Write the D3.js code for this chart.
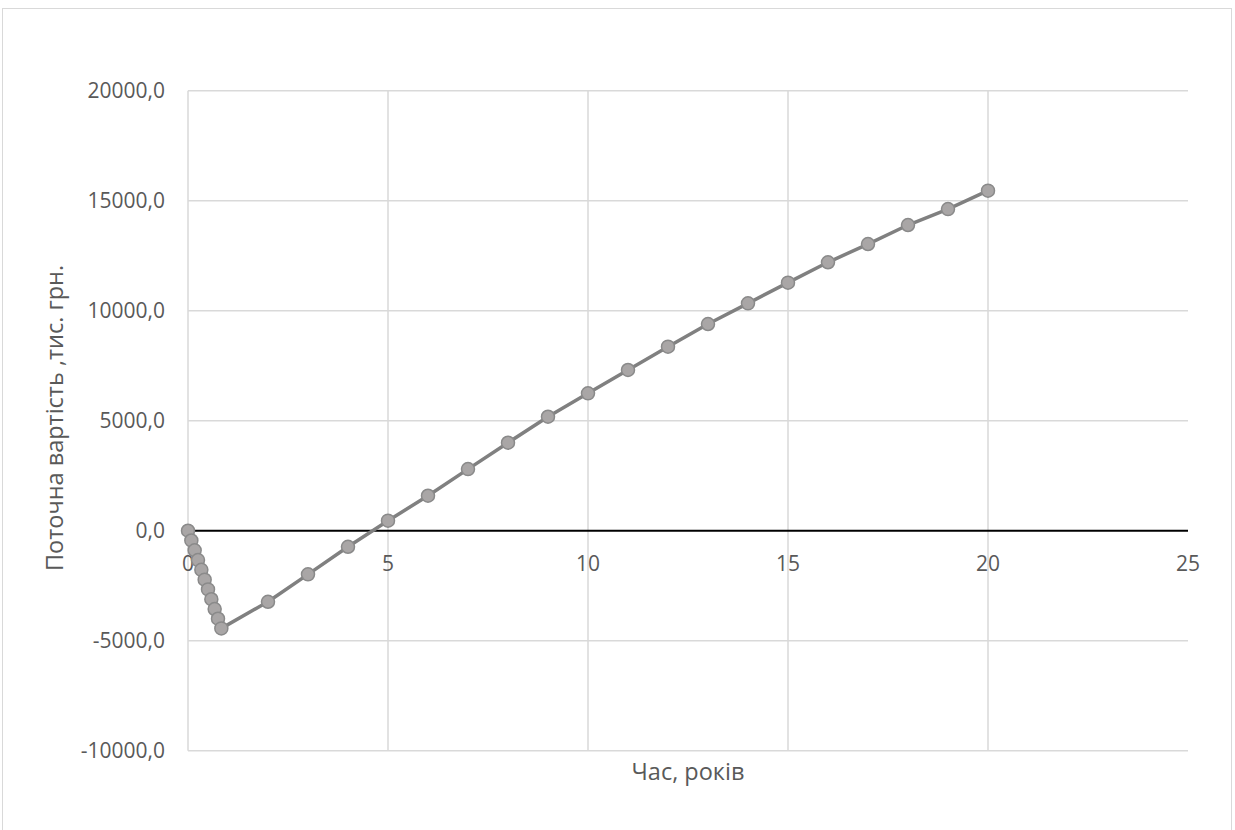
<!DOCTYPE html>
<html>
<head>
<meta charset="utf-8">
<script src="https://cdn.jsdelivr.net/npm/d3@7"></script>
<style>
  html, body { margin: 0; padding: 0; background: #fff; }
  svg { display: block; }
  text { font-family: "Open Sans", "Noto Sans", sans-serif; fill: #595959; }
</style>
</head>
<body>
<svg id="chart" width="1235" height="830"></svg>
<script>
// ---- data ----
const years = [0, 1/12, 2/12, 3/12, 4/12, 5/12, 6/12, 7/12, 8/12, 9/12, 10/12,
               2, 3, 4, 5, 6, 7, 8, 9, 10, 11, 12, 13, 14, 15, 16, 17, 18, 19, 20];
const values = [0, -445, -890, -1335, -1780, -2225, -2670, -3115, -3560, -4000, -4440,
                -3230, -1985, -730, 455, 1590, 2800, 4000, 5180, 6245, 7305, 8365, 9395,
                10335, 11275, 12200, 13030, 13895, 14620, 15455];
const xTicks = [0, 5, 10, 15, 20, 25];
const yTicks = [-10000, -5000, 0, 5000, 10000, 15000, 20000];
const xTitle = "Час, років";
const yTitle = "Поточна вартість ,тис. грн.";

const svg = d3.select("#chart");

// outer border
svg.append("rect")
  .attr("x", 2.5).attr("y", 8.5).attr("width", 1229).attr("height", 830)
  .attr("fill", "#fff").attr("stroke", "#d9d9d9").attr("stroke-width", 1);

const x = d3.scaleLinear().domain([0, 25]).range([188, 1188]);
const y = d3.scaleLinear().domain([-10000, 20000]).range([750.7, 90.7]);

const fmt = v => d3.format(".1f")(v).replace(".", ",").replace("−", "-");

// horizontal gridlines (except 0)
svg.append("g").selectAll("line")
  .data(yTicks.filter(v => v !== 0))
  .join("line")
  .attr("x1", x(0)).attr("x2", x(25))
  .attr("y1", d => y(d)).attr("y2", d => y(d))
  .attr("stroke", "#d9d9d9").attr("stroke-width", 1.5);

// vertical gridlines + y axis line
svg.append("g").selectAll("line")
  .data(xTicks.filter(v => v < 25))
  .join("line")
  .attr("x1", d => x(d)).attr("x2", d => x(d))
  .attr("y1", y(20000)).attr("y2", y(-10000))
  .attr("stroke", "#d9d9d9").attr("stroke-width", 1.5);

// zero line (x axis)
svg.append("line")
  .attr("x1", x(0)).attr("x2", x(25))
  .attr("y1", y(0)).attr("y2", y(0))
  .attr("stroke", "#000").attr("stroke-width", 2);

// y tick labels
svg.append("g").selectAll("text")
  .data(yTicks)
  .join("text")
  .attr("x", 165).attr("y", d => y(d) + 7.5)
  .attr("text-anchor", "end")
  .attr("font-size", 21)
  .text(d => fmt(d));

// x tick labels
svg.append("g").selectAll("text")
  .data(xTicks)
  .join("text")
  .attr("x", d => x(d)).attr("y", y(0) + 40)
  .attr("text-anchor", "middle")
  .attr("font-size", 21)
  .text(d => d);

// series line
const pts = years.map((t, i) => [t, values[i]]);
svg.append("path")
  .datum(pts)
  .attr("fill", "none")
  .attr("stroke", "#808080")
  .attr("stroke-width", 3.5)
  .attr("stroke-linejoin", "round")
  .attr("d", d3.line().x(d => x(d[0])).y(d => y(d[1])));

// markers
svg.append("g").selectAll("circle")
  .data(pts)
  .join("circle")
  .attr("cx", d => x(d[0])).attr("cy", d => y(d[1]))
  .attr("r", 6.5)
  .attr("fill", "#a9a6a6")
  .attr("stroke", "#8a8a8a")
  .attr("stroke-width", 1.5);

// axis titles
svg.append("text")
  .attr("x", (x(0) + x(25)) / 2).attr("y", 780)
  .attr("text-anchor", "middle")
  .attr("font-size", 23.5)
  .text(xTitle);

svg.append("text")
  .attr("transform", `translate(63, 418) rotate(-90)`)
  .attr("text-anchor", "middle")
  .attr("font-size", 23.5)
  .text(yTitle);
</script>
</body>
</html>
